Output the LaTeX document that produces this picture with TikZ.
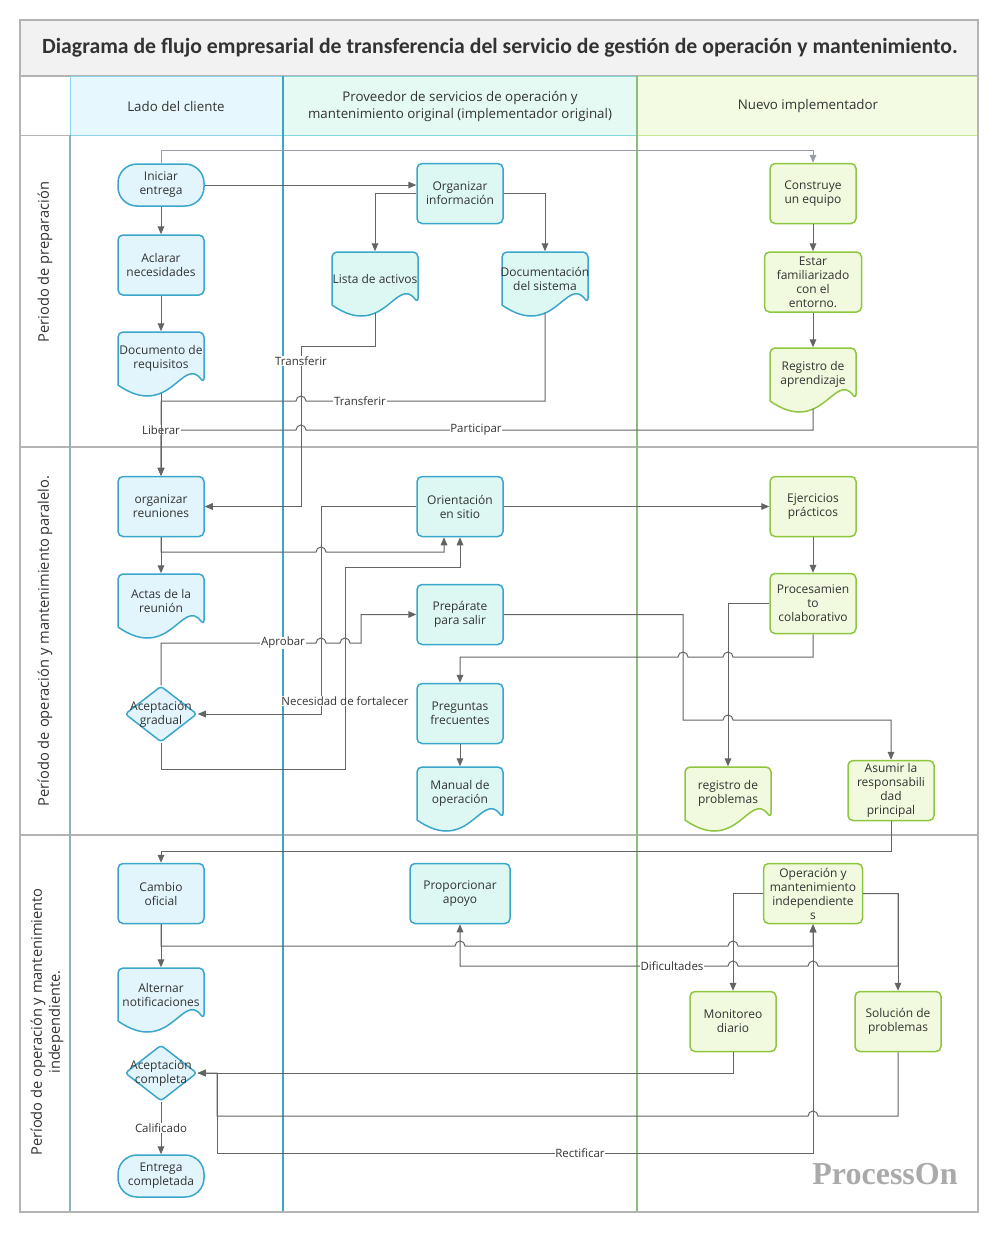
\documentclass[tikz,border=0pt]{standalone}
\usepackage{fontspec}
\setmainfont{Open Sans}
\newfontfamily\titlefam{Carlito}
\newfontfamily\markfam{Liberation Serif}
\usepackage{tikz}
\usetikzlibrary{arrows.meta,shapes.geometric}
\definecolor{cliblue}{RGB}{59,166,204}
\definecolor{clifill}{RGB}{226,245,252}
\definecolor{provfill}{RGB}{221,248,243}
\definecolor{newgreen}{RGB}{141,198,63}
\definecolor{newfill}{RGB}{241,250,222}
\definecolor{clihead}{RGB}{230,247,253}
\definecolor{cliheadline}{RGB}{140,212,238}
\definecolor{provhead}{RGB}{230,250,244}
\definecolor{provheadline}{RGB}{130,215,215}
\definecolor{newhead}{RGB}{243,251,226}
\definecolor{newheadline}{RGB}{200,232,150}
\definecolor{lanegreen}{RGB}{140,190,130}
\definecolor{framegray}{RGB}{180,180,180}
\definecolor{titlefill}{RGB}{242,242,242}
\definecolor{linegray}{RGB}{100,100,100}
\definecolor{lightline}{RGB}{150,155,165}
\definecolor{txtgray}{RGB}{51,51,51}
\definecolor{markgray}{RGB}{170,170,170}

\newcommand{\pxu}{0.75pt}
\newcommand{\nodefont}{\fontsize{9}{10.5}\selectfont}
\newcommand{\lblfont}{\fontsize{8.6}{10}\selectfont}

\tikzset{
  base/.style={font=\nodefont, text=txtgray, align=center, inner sep=1pt, line width=1.5*\pxu},
  bluebox/.style={base, rectangle, rounded corners=5*\pxu, draw=cliblue, fill=clifill,
    minimum width=86*\pxu, minimum height=60*\pxu},
  mintbox/.style={bluebox, fill=provfill},
  greenbox/.style={bluebox, draw=newgreen, fill=newfill},
  terminal/.style={bluebox, rounded corners=19*\pxu, minimum height=42*\pxu},
  decision/.style={base, diamond, draw=cliblue, fill=clifill, minimum width=72*\pxu,
    minimum height=56*\pxu, rounded corners=3*\pxu, inner sep=0pt},
  doctext/.style={base, minimum width=86*\pxu, minimum height=53*\pxu},
  docblue/.style={draw=cliblue, fill=clifill},
  docmint/.style={draw=cliblue, fill=provfill},
  docgreen/.style={draw=newgreen, fill=newfill},
  flow/.style={draw=linegray, line width=1*\pxu, -{Triangle[length=6pt,width=5pt]}},
  lbl/.style={font=\lblfont, text=txtgray, fill=white, inner sep=0.5pt},
  lanehead/.style={font=\fontsize{10}{12.75}\selectfont, text=txtgray, align=center},
  rowlbl/.style={font=\fontsize{11}{13.5}\selectfont, text=txtgray, align=center, rotate=90},
  laneline/.style={line width=1.5*\pxu},
}

% document shape: name, x, y, colours, text
\newcommand{\docnode}[5]{%
  \filldraw[#4, line width=1.5*\pxu, rounded corners=5*\pxu]
    (#2-43,#3+26.5) -- (#2-43,#3-26.5) -- (#2+43,#3-26.5) -- (#2+43,#3+24.5)
    [sharp corners] .. controls (#2+21.5,#3-3.5) and (#2+8.6,#3+62.5) .. (#2-43,#3+26.5) -- cycle;
  \node[doctext] (#1) at (#2,#3) {#5};
  \coordinate (#1-b) at (#2,#3+34);
}
% line hops, going right / going left
\newcommand{\hopr}[2]{-- (#1-5,#2) arc[start angle=180,end angle=0,radius=5*\pxu]}
\newcommand{\hopl}[2]{-- (#1+5,#2) arc[start angle=0,end angle=180,radius=5*\pxu]}

\begin{document}
\begin{tikzpicture}[x=\pxu, y=-\pxu]
    \useasboundingbox (0,0) rectangle (1000,1233);
    % title and lane headers
    \filldraw[fill=titlefill, draw=framegray, laneline] (20,20) rectangle (978,76);
    \node[font=\titlefam\bfseries\fontsize{16.3}{18}\selectfont, text=txtgray] (title) at (500,48)
      {Diagrama de flujo empresarial de transferencia del servicio de gestión de operación y mantenimiento.};
    \draw[framegray] (20,76) rectangle (70,135);
    \filldraw[fill=clihead, draw=cliheadline] (70,76) rectangle (283,135);
    \filldraw[fill=provhead, draw=provheadline] (283,76) rectangle (637,135);
    \filldraw[fill=newhead, draw=newheadline] (637,76) rectangle (978,135);
    \node[lanehead] (h1) at (176,106) {Lado del cliente};
    \node[lanehead] (h2) at (460,106) {Proveedor de servicios de operación y\\mantenimiento original (implementador original)};
    \node[lanehead] (h3) at (808,106) {Nuevo implementador};
    % rows and lanes
    \foreach \y in {447,835}
      \draw[framegray, laneline] (20,\y) -- (978,\y);
    \draw[framegray!70!cliblue, laneline] (70,135) -- (70,1212);
    \draw[cliblue, laneline] (283,76) -- (283,1212);
    \draw[lanegreen, laneline] (637,76) -- (637,1212);
    \draw[framegray, laneline] (20,20) rectangle (978,1212);
    \node[rowlbl] (r1) at (45,262) {Periodo de preparación};
    \node[rowlbl] (r2) at (45,641) {Período de operación y mantenimiento paralelo.};
    \node[rowlbl] (r3) at (47,1022) {Período de operación y mantenimiento\\independiente.};

    % nodes
    \node[terminal] (ini) at (161,185) {Iniciar\\entrega};
    \node[bluebox] (acl) at (161,265) {Aclarar\\necesidades};
    \docnode{dreq}{161}{358.5}{docblue}{Documento de\\requisitos}
    \node[mintbox] (org) at (460,193.5) {Organizar\\información};
    \docnode{lista}{375}{278.5}{docmint}{Lista de activos}
    \docnode{dsis}{545}{278.5}{docmint}{Documentación\\del sistema}
    \node[greenbox] (equ) at (813,193.5) {Construye\\un equipo};
    \node[greenbox, minimum width=97*\pxu] (fam) at (813,282) {Estar\\familiarizado\\con el\\entorno.};
    \docnode{regap}{813}{374.5}{docgreen}{Registro de\\aprendizaje}

    \node[bluebox] (reu) at (161,506.5) {organizar\\reuniones};
    \docnode{actas}{161}{600.5}{docblue}{Actas de la\\reunión}
    \node[decision, label={[base]center:Aceptación\\gradual}] (agrad) at (161,714) {};
    \node[mintbox] (ori) at (460,506.5) {Orientación\\en sitio};
    \node[mintbox] (prep) at (460,614.5) {Prepárate\\para salir};
    \node[mintbox] (faq) at (460,713.5) {Preguntas\\frecuentes};
    \docnode{man}{460}{793.5}{docmint}{Manual de\\operación}
    \node[greenbox] (ejer) at (813,506.5) {Ejercicios\\prácticos};
    \node[greenbox] (proc) at (813,603.5) {Procesamien\\to\\colaborativo};
    \docnode{regpr}{728}{793.5}{docgreen}{registro de\\problemas}
    \node[greenbox] (asum) at (891,790.5) {Asumir la\\responsabili\\dad\\principal};

    \node[bluebox] (camb) at (161,893.5) {Cambio\\oficial};
    \docnode{alt}{161}{994.5}{docblue}{Alternar\\notificaciones};
    \node[decision, label={[base]center:Aceptación\\completa}] (acomp) at (161,1073) {};
    \node[terminal] (fin) at (161,1176) {Entrega\\completada};
    \node[mintbox, minimum width=100*\pxu] (apoyo) at (460,893.5) {Proporcionar\\apoyo};
    \node[greenbox, minimum width=99*\pxu] (opind) at (813,893.5) {Operación y\\mantenimiento\\independiente\\s};
    \node[greenbox] (mon) at (733,1021.5) {Monitoreo\\diario};
    \node[greenbox] (sol) at (898,1021.5) {Solución de\\problemas};

    % preparation arrows
    \draw[flow, draw=lightline] (ini.north) -- (161,150) -| (equ.north);
    \draw[flow] (ini.east) -- (ini.east -| org.west);
    \draw[flow] (ini) -- (acl);
    \draw[flow] (acl) -- (dreq);
    \draw[flow] (org.west) -| (lista.north);
    \draw[flow] (org.east) -| (dsis.north);
    \draw[flow] (equ) -- (fam);
    \draw[flow] (fam) -- (regap);
    \draw[flow] (lista-b) |- (301,346) |- (reu.east);
    \draw[flow] (dsis-b) -- (545,401) \hopl{301}{401} -- (161,401) -- (reu.north);
    \draw[flow] (regap-b) -- (813,430) \hopl{301}{430} -- (161,430) -- (reu.north);
    \node[lbl] (l1) at (301,361) {Transferir};
    \node[lbl] (l2) at (360,401) {Transferir};
    \node[lbl] (l3) at (161,430) {Liberar};
    \node[lbl] (l4) at (476,430) {Participar};
    \draw[flow] (dreq-b) -- (reu.north);

    % parallel arrows
    \draw[flow] (reu) -- (actas);
    \draw[flow] (reu.south) -- (161,552) \hopr{321}{552} -| ([xshift=-12pt]ori.south);
    \draw[flow] (ori.west) -| (321,714) -- (agrad.east);
    \draw[flow] (agrad.south) |- (345,769) -- (345,567) -| (ori.south);
    \draw[flow] (agrad.north) -- (161,643) \hopr{321}{643} \hopr{345}{643} -- (361,643) |- (prep.west);
    \draw[flow] (ori) -- (ejer);
    \draw[flow] (ejer) -- (proc);
    \draw[flow] (prep.east) -- (683,614.5) -- (683,720) \hopr{728}{720} -| (asum.north);
    \draw[flow] (proc.west) -| (regpr.north);
    \draw[flow] (proc.south) -- (813,657) \hopl{728}{657} \hopl{683}{657} -| (faq.north);
    \draw[flow] (faq) -- (man);
    \draw[flow] (asum.south) -- (891,851) -| (camb.north);
    \node[lbl] (l5) at (283,643) {Aprobar};
    \node[lbl] (l6) at (345,701) {Necesidad de fortalecer};

    % independent arrows
    \draw[flow] (camb) -- (alt);
    \draw[flow] (camb.south) -- (161,946) \hopr{460}{946} \hopr{733}{946} -| (opind.south);
    \draw[flow] (opind.west) -| (mon.north);
    \draw[flow] (opind.east) -| (sol.north);
    \draw[flow] (opind.east) -- (898,893.5) -- (898,966) \hopl{813}{966} \hopl{733}{966} -| (apoyo.south);
    \draw[flow] (mon.south) |- (acomp.east);
    \draw[flow] (sol.south) -- (898,1116) \hopl{813}{1116} -- (217,1116) -- (217,1073) -- (acomp.east);
    \draw[flow] (acomp.east) -- (217,1073) -- (217,1153) -| (opind.south);
    \draw[flow] (acomp) -- (fin);
    \node[lbl] (l7) at (672,966) {Dificultades};
    \node[lbl] (l8) at (580,1153) {Rectificar};
    \node[lbl] (l9) at (161,1128) {Calificado};

    \node[font=\markfam\bfseries\fontsize{24}{24}\selectfont, text=markgray] (mark) at (885,1174) {ProcessOn};
\end{tikzpicture}
\end{document}
